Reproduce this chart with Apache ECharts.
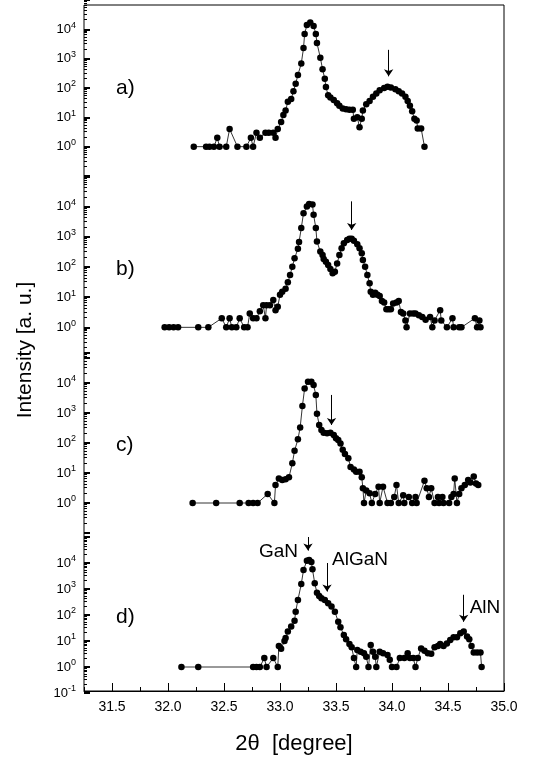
<!DOCTYPE html>
<html><head><meta charset="utf-8">
<script src="https://cdn.jsdelivr.net/npm/echarts@6/dist/echarts.min.js"></script>
<style>html,body{margin:0;padding:0;background:#fff}#c{width:544px;height:760px}</style>
</head><body><div id="c"></div>
<script>
// ---- data (2theta in degree, intensity in a.u.) ----
const aX = [32.23,32.34,32.37,32.41,32.44,32.46,32.52,32.55,32.62,32.70,32.74,32.76,32.79,32.82,32.87,32.90,32.94,32.96,32.98,33.01,33.03,33.05,33.07,33.10,33.12,33.14,33.16,33.19,33.21,33.22,33.24,33.27,33.30,33.32,33.33,33.36,33.38,33.40,33.41,33.43,33.45,33.48,33.51,33.53,33.56,33.59,33.62,33.65,33.66,33.69,33.71,33.73,33.74,33.77,33.80,33.83,33.86,33.89,33.93,33.96,33.99,34.03,34.06,34.09,34.12,34.14,34.16,34.18,34.20,34.22,34.23,34.26,34.29];
const aY = [1,1,1,1,2,1,1,4,1,1,2,1,3,2,3,3,3,2,4,7,12,17,34,42,78,140,280,680,2300,7000,14000,17000,13000,7000,3400,1080,440,205,108,57,47,39,30,25,20,19,18,18,9,10,4.6,9,17,28,36,50,65,84,100,110,105,90,78,65,50,36,25,16,9,7.8,4.2,4.2,1];

const bX = [31.97,32.01,32.05,32.09,32.27,32.36,32.48,32.52,32.55,32.57,32.61,32.64,32.68,32.71,32.73,32.76,32.79,32.82,32.85,32.87,32.88,32.91,32.94,32.96,32.98,33.00,33.02,33.05,33.07,33.09,33.11,33.13,33.16,33.17,33.19,33.21,33.24,33.26,33.29,33.30,33.32,33.33,33.36,33.38,33.39,33.41,33.43,33.45,33.47,33.49,33.51,33.53,33.55,33.57,33.60,33.62,33.64,33.66,33.69,33.71,33.73,33.74,33.76,33.78,33.80,33.81,33.83,33.85,33.87,33.89,33.91,33.93,33.95,33.97,33.99,34.01,34.04,34.06,34.08,34.10,34.12,34.13,34.16,34.19,34.21,34.24,34.27,34.30,34.34,34.36,34.38,34.43,34.44,34.49,34.54,34.55,34.60,34.62,34.74,34.76,34.78,34.79];
const bY = [1,1,1,1,1,1,2,1,2,1,1,2,1,1,2.9,2,2,3.4,5.4,2,5.4,5.4,8,3.7,4.8,12,15,19,31,54,102,194,400,670,1950,6100,10200,12300,11700,5400,1950,700,325,250,185,150,117,86,62,70,131,250,420,615,790,860,860,740,570,420,285,170,102,54,29,15,12,14,12,11,7.4,6.6,4,4,4,6.2,6.6,7.4,3.2,2.9,1.7,1,2.9,2.9,2.9,2.5,2.2,1.8,2.2,1,1.7,3.7,1.7,1,2,1,1,1,2,1,1.7,1];

const cX = [32.22,32.43,32.64,32.72,32.76,32.80,32.89,32.95,32.96,32.99,33.02,33.05,33.08,33.11,33.13,33.16,33.18,33.20,33.22,33.25,33.28,33.30,33.32,33.33,33.35,33.37,33.39,33.42,33.45,33.48,33.50,33.52,33.54,33.56,33.58,33.61,33.63,33.66,33.68,33.71,33.73,33.74,33.75,33.77,33.80,33.82,33.85,33.88,33.89,33.92,33.96,33.99,34.02,34.04,34.06,34.10,34.11,34.15,34.18,34.21,34.22,34.29,34.31,34.33,34.35,34.38,34.41,34.42,34.45,34.46,34.51,34.53,34.55,34.56,34.58,34.60,34.62,34.65,34.68,34.70,34.73,34.75,34.77];
const cY = [1,1,1,1,1,1,2,1,4,6.6,5.8,6.2,7.2,21,55,133,330,1700,6600,11000,11000,8500,4000,950,400,270,220,210,220,185,144,126,97,59,43,31,16,13,11,11,7.2,3.1,1,2.6,2.1,1,2,3.5,1,3.5,1,1,1.6,4,1,1.8,1,1.6,1,1.6,1,5.5,3.1,1.6,3.1,1,1.6,1,1.6,1,1,1.6,2,6.6,1,2,3.1,4,5.8,4.8,7.6,4.5,4];

const dX = [32.12,32.27,32.76,32.79,32.82,32.86,32.88,32.94,32.98,32.99,33.01,33.04,33.05,33.07,33.10,33.13,33.14,33.16,33.19,33.21,33.24,33.26,33.28,33.29,33.31,33.33,33.35,33.37,33.40,33.43,33.46,33.49,33.52,33.54,33.57,33.59,33.62,33.64,33.66,33.68,33.69,33.72,33.75,33.77,33.79,33.81,33.83,33.85,33.86,33.89,33.92,33.96,33.98,34.00,34.04,34.07,34.11,34.14,34.16,34.19,34.21,34.23,34.26,34.29,34.32,34.35,34.38,34.41,34.43,34.46,34.49,34.52,34.55,34.58,34.61,34.64,34.67,34.69,34.71,34.73,34.76,34.79,34.80];
const dY = [1,1,1,1,1,2.2,1,2.2,1,6.4,5,10,13,23,36,60,134,380,1550,5400,12300,13000,11000,5700,1650,720,540,440,380,280,210,134,55,34,17,11.6,7.7,5.7,2.2,1,4.5,3.9,3.4,2.5,1,7,3.9,2.5,1,3.9,3.4,2.9,1.9,1,1,2.2,2.2,3.4,2.2,2.2,1,2.2,5.2,4.2,3.4,3.2,5.7,6.4,7.7,6.4,8.1,11,14,14,20,23,15,11.6,6.4,3.6,3.6,3.6,1];

const panelNames = ['a)', 'b)', 'c)', 'd)'];
const xTickLabels = [31.5, 32.0, 32.5, 33.0, 33.5, 34.0, 34.5, 35.0];
const xMin = 31.25, xMax = 35.0;

// arrows: [x, yTop, yBottom]
const arrowsA = [[33.97, 2000, 250]];
const arrowsB = [[33.64, 15000, 1700]];
const arrowsC = [[33.46, 4000, 400]];
const arrowsD = [[33.25, 100000, 30000], [33.42, 10000, 800], [34.64, 600, 55]];
const peakNames = ['GaN', 'AlGaN', 'AlN'];

// ---- chart ----
const FONT = '"Liberation Sans", Arial, Helvetica, sans-serif';
const zip = (xs, ys) => xs.map((x, i) => [x, ys[i]]);

// pixel layout of panels: [top, height] for log range 1e-1 .. 1e5
const panels = [[-4, 180], [176.5, 181], [353, 180], [537, 156]];
const L = 84, R = 544 - 504;

const grids = panels.map(p => ({ left: L, right: R, top: p[0], height: p[1], show: false }));
grids.push({ left: L, right: R, top: 5, bottom: 760 - 693, show: true, borderColor: '#000', borderWidth: 1, backgroundColor: 'transparent' });

const xAxes = panels.map((p, i) => ({ type: 'value', gridIndex: i, min: xMin, max: xMax, show: false }));
xAxes.push({
  type: 'value', gridIndex: 4, min: xMin, max: xMax, interval: 0.25,
  axisLine: { show: true, lineStyle: { color: '#000', width: 1 } },
  axisTick: { show: true, inside: true, length: 4, lineStyle: { color: '#000' } },
  axisLabel: { show: true, customValues: xTickLabels, formatter: v => v.toFixed(1), color: '#000', fontSize: 14, fontFamily: FONT, margin: 9 },
  splitLine: { show: false },
  name: '2\u03B8  [degree]', nameLocation: 'middle', nameGap: 42,
  nameTextStyle: { color: '#000', fontSize: 22, fontFamily: FONT }
});
xAxes.push({
  type: 'value', gridIndex: 4, min: xMin, max: xMax, position: 'bottom',
  axisLine: { show: false },
  axisTick: { show: true, inside: true, length: 8, customValues: xTickLabels, lineStyle: { color: '#000' } },
  axisLabel: { show: false }, splitLine: { show: false }
});

const yAxes = panels.map((p, i) => ({
  type: 'log', logBase: 10, gridIndex: i, min: 0.1, max: 100000,
  axisLine: { show: false },
  axisTick: { show: true, inside: true, length: 6, lineStyle: { color: '#000', width: 2 } },
  minorTick: { show: true, splitNumber: 8, length: 3, lineStyle: { color: '#000' } },
  splitLine: { show: false },
  axisLabel: {
    show: true, margin: 8, color: '#000',
    formatter: v => {
      const e = Math.round(Math.log10(v));
      if (e > 4 || (e < 0 && i < 3)) return '';
      return '{b|10}{s|' + e + '}';
    },
    rich: {
      b: { fontSize: 13, fontFamily: FONT, color: '#000' },
      s: { fontSize: 9, fontFamily: FONT, color: '#000', padding: [0, 0, 8, 0] }
    }
  }
}));
yAxes.push({ type: 'value', gridIndex: 4, show: false, min: 0, max: 1 });

function arrowLines(list) {
  return list.map(a => [{ coord: [a[0], a[1]] }, { coord: [a[0], a[2]] }]);
}

const dataSets = [[aX, aY, arrowsA], [bX, bY, arrowsB], [cX, cY, arrowsC], [dX, dY, arrowsD]];
const series = dataSets.map((d, i) => {
  const s = {
    type: 'line', xAxisIndex: i, yAxisIndex: i,
    data: zip(d[0], d[1]),
    symbol: 'circle', symbolSize: 6.5, showSymbol: true,
    itemStyle: { color: '#000' },
    lineStyle: { color: '#000', width: 0.8 },
    clip: false, silent: true,
    markLine: {
      silent: true, animation: false,
      symbol: ['none', 'arrow'], symbolSize: 7,
      lineStyle: { color: '#000', width: 1, type: 'solid' },
      label: { show: false },
      data: arrowLines(d[2])
    }
  };
  if (i === 3) {
    s.markPoint = {
      silent: true, animation: false,
      symbol: 'circle', symbolSize: 0,
      label: { show: true, color: '#000', fontSize: 19, fontFamily: FONT },
      data: [
        { coord: [33.25, 28000], value: peakNames[0], label: { position: 'left', distance: 10, formatter: '{c}' } },
        { coord: [33.42, 13000], value: peakNames[1], label: { position: 'right', distance: 5, formatter: '{c}' } },
        { coord: [34.64, 185], value: peakNames[2], label: { position: 'right', distance: 6, formatter: '{c}' } }
      ]
    };
  }
  return s;
});

// panel letters placed just below the 10^2 level of each panel
const graphics = panelNames.map((n, i) => ({
  type: 'text', left: 116, top: panels[i][0] + panels[i][1] * 3 / 6 - 8,
  style: { text: n, fontSize: 21, fontFamily: FONT, fill: '#000' }
}));
graphics.push({
  type: 'text', x: 25, y: 350, rotation: Math.PI / 2,
  style: { text: 'Intensity [a. u.]', fontSize: 21, fontFamily: FONT, fill: '#000', align: 'center', verticalAlign: 'middle' }
});

const chart = echarts.init(document.getElementById('c'), null, { renderer: 'canvas' });
chart.setOption({
  animation: false,
  grid: grids, xAxis: xAxes, yAxis: yAxes, series: series, graphic: graphics
});
</script></body></html>
